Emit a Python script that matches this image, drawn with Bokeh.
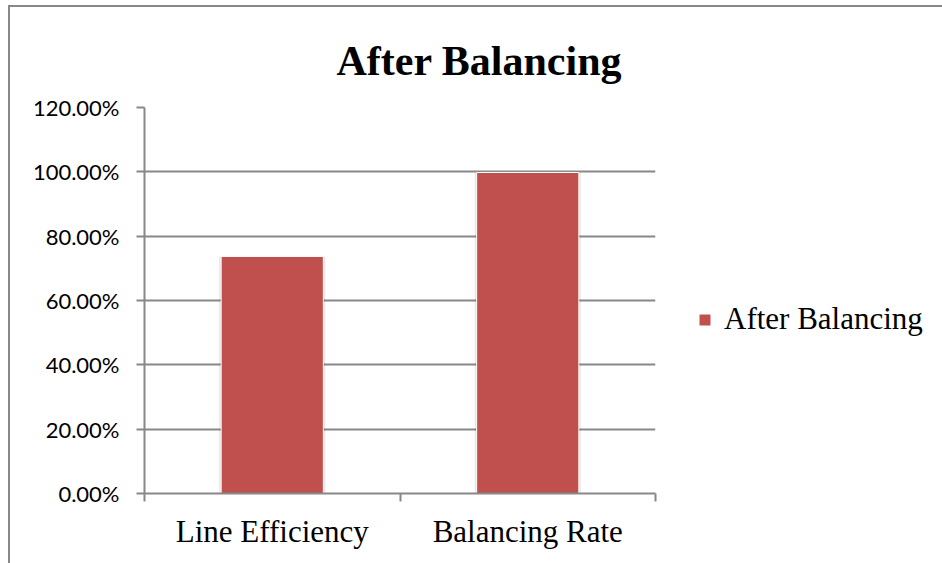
import re
from bokeh.plotting import figure
from bokeh.models import (ColumnDataSource, FixedTicker, Legend, LegendItem, Range1d,
                          NumeralTickFormatter, Title)
from bokeh.embed import file_html
from bokeh.resources import INLINE

categories = ["Line Efficiency", "Balancing Rate"]
series_name = "After Balancing"
values = [0.737, 0.998]
y_ticks = [0, 0.2, 0.4, 0.6, 0.8, 1.0, 1.2]

xpos = [i + 0.5 for i in range(len(categories))]
src = ColumnDataSource(dict(x=xpos, top=values))

p = figure(frame_width=511, frame_height=386, output_backend="svg", toolbar_location=None,
           x_range=Range1d(0, len(categories)), y_range=Range1d(0, 1.2),
           min_border_left=144, min_border_right=287, min_border_top=107,
           min_border_bottom=70)
p.outline_line_color = None
p.background_fill_color = "white"
p.border_fill_color = "white"

# shadow behind bars
p.vbar(x="x", top="top", width=0.415, bottom=0, source=src,
       fill_color="#000000", fill_alpha=0.10, line_color=None)
r = p.vbar(x="x", top="top", width=0.40, bottom=0, source=src,
           fill_color="#C0504D", line_color="white", line_width=1)

# y axis
p.yaxis.ticker = FixedTicker(ticks=y_ticks)
p.yaxis.formatter = NumeralTickFormatter(format="0.00%")
p.yaxis.axis_line_color = "#888888"
p.yaxis.axis_line_width = 2
p.yaxis.major_tick_line_color = "#888888"
p.yaxis.major_tick_line_width = 2
p.yaxis.major_tick_out = 8
p.yaxis.major_tick_in = 0
p.yaxis.minor_tick_line_color = None
p.yaxis.major_label_text_font = "Lato"
p.yaxis.major_label_text_font_size = "22px"
p.yaxis.major_label_text_color = "black"
p.yaxis.major_label_standoff = 17

# x axis: labels at centers, tick marks at category boundaries
p.xaxis.ticker = FixedTicker(ticks=xpos, minor_ticks=list(range(len(categories) + 1)))
p.xaxis.major_label_overrides = {x: c for x, c in zip(xpos, categories)}
p.xaxis.axis_line_color = "#888888"
p.xaxis.axis_line_width = 2
p.xaxis.major_tick_line_color = None
p.xaxis.minor_tick_line_color = "#888888"
p.xaxis.minor_tick_line_width = 2
p.xaxis.minor_tick_out = 8
p.xaxis.minor_tick_in = 0
p.xaxis.major_label_text_font = "Liberation Serif"
p.xaxis.major_label_text_font_size = "31px"
p.xaxis.major_label_text_color = "black"
p.xaxis.major_label_standoff = 12

p.xgrid.grid_line_color = None
p.ygrid.ticker = FixedTicker(ticks=y_ticks)
p.ygrid.grid_line_color = "#888888"
p.ygrid.grid_line_width = 2

# title
t = Title(text=series_name, text_font="Liberation Serif", text_font_size="42px",
          text_font_style="bold", text_color="black", align="left", offset=192,
          standoff=47)
p.add_layout(t, "above")

legend = Legend(items=[LegendItem(label=series_name, renderers=[r])],
                location=(42, 156), orientation="vertical",
                label_text_font="Liberation Serif", label_text_font_size="31px",
                label_text_color="black", glyph_width=15, glyph_height=15,
                label_standoff=12, border_line_color=None, background_fill_alpha=0,
                padding=0, margin=0)
p.add_layout(legend, "right")

html = file_html(p, INLINE)
border = ('<div style="position:fixed;left:8px;top:5px;width:940px;height:560px;'
          'border-left:2px solid #888;border-top:2px solid #888;pointer-events:none;'
          'z-index:1000"></div>')
html = re.sub(r"<body[^>]*>", '<body style="margin:0">', html, count=1)
html = html.replace("</body>", border + "</body>", 1)
open("out.html", "w").write(html)
